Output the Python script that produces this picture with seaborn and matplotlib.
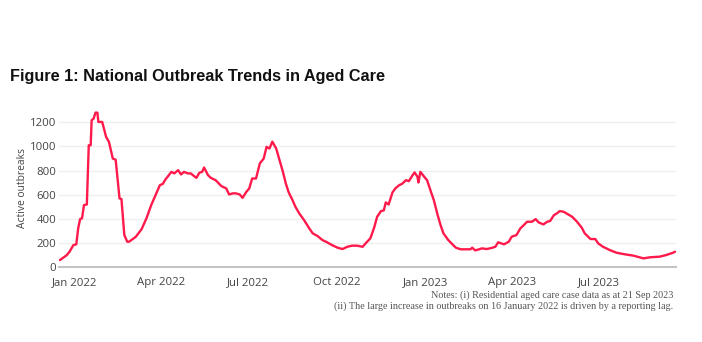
import matplotlib
matplotlib.use("Agg")
import matplotlib.pyplot as plt
import matplotlib.dates as mdates
import seaborn as sns
import pandas as pd

dates = [
    "2021-12-17", "2021-12-24", "2021-12-27", "2021-12-31", "2022-01-03", "2022-01-05",
    "2022-01-07", "2022-01-09", "2022-01-11", "2022-01-14", "2022-01-16", "2022-01-18",
    "2022-01-19", "2022-01-21", "2022-01-23", "2022-01-25", "2022-01-26", "2022-01-30",
    "2022-02-03", "2022-02-06", "2022-02-10", "2022-02-13", "2022-02-17", "2022-02-19",
    "2022-02-22", "2022-02-25", "2022-02-27", "2022-03-06", "2022-03-12", "2022-03-17",
    "2022-03-22", "2022-03-25", "2022-03-31", "2022-04-03", "2022-04-06", "2022-04-08",
    "2022-04-12", "2022-04-15", "2022-04-19", "2022-04-22", "2022-04-25", "2022-04-29",
    "2022-05-02", "2022-05-08", "2022-05-11", "2022-05-14", "2022-05-16", "2022-05-20",
    "2022-05-23", "2022-05-28", "2022-06-03", "2022-06-08", "2022-06-11", "2022-06-15",
    "2022-06-18", "2022-06-22", "2022-06-25", "2022-06-29", "2022-07-02", "2022-07-05",
    "2022-07-09", "2022-07-13", "2022-07-17", "2022-07-20", "2022-07-23", "2022-07-26",
    "2022-07-30", "2022-08-02", "2022-08-06", "2022-08-09", "2022-08-12", "2022-08-16",
    "2022-08-19", "2022-08-23", "2022-08-28", "2022-09-02", "2022-09-06", "2022-09-11",
    "2022-09-16", "2022-09-21", "2022-09-26", "2022-10-02", "2022-10-07", "2022-10-12",
    "2022-10-17", "2022-10-22", "2022-10-28", "2022-10-31", "2022-11-05", "2022-11-09",
    "2022-11-12", "2022-11-16", "2022-11-19", "2022-11-21", "2022-11-24", "2022-11-28",
    "2022-12-01", "2022-12-05", "2022-12-08", "2022-12-12", "2022-12-15", "2022-12-19",
    "2022-12-21", "2022-12-24", "2022-12-25", "2022-12-27", "2022-12-31", "2023-01-03",
    "2023-01-07", "2023-01-10", "2023-01-14", "2023-01-17", "2023-01-20", "2023-01-25",
    "2023-01-29", "2023-02-02", "2023-02-07", "2023-02-14", "2023-02-17", "2023-02-19",
    "2023-02-22", "2023-02-27", "2023-03-01", "2023-03-06", "2023-03-12", "2023-03-15",
    "2023-03-18", "2023-03-24", "2023-03-29", "2023-04-01", "2023-04-06", "2023-04-10",
    "2023-04-13", "2023-04-17", "2023-04-22", "2023-04-26", "2023-04-29", "2023-05-04",
    "2023-05-08", "2023-05-11", "2023-05-15", "2023-05-18", "2023-05-21", "2023-05-25",
    "2023-05-28", "2023-06-03", "2023-06-08", "2023-06-13", "2023-06-16", "2023-06-22",
    "2023-06-27", "2023-06-30", "2023-07-05", "2023-07-12", "2023-07-19", "2023-07-26",
    "2023-08-06", "2023-08-16", "2023-08-23", "2023-09-02", "2023-09-09", "2023-09-16",
    "2023-09-18",
]
active_outbreaks = [
    60, 100, 129, 184, 190, 322,
    400, 405, 515, 520, 1010, 1010,
    1217, 1230, 1280, 1280, 1203, 1203,
    1080, 1038, 900, 890, 570, 565,
    267, 212, 212, 253, 316, 405,
    515, 570, 680, 690, 730, 749,
    790, 777, 804, 768, 790, 777,
    777, 740, 782, 790, 826, 763,
    740, 721, 672, 653, 603, 612,
    612, 603, 575, 625, 653, 735,
    735, 860, 900, 997, 983, 1040,
    983, 900, 790, 694, 620, 556,
    501, 446, 391, 327, 281, 259,
    226, 207, 184, 162, 151, 170,
    179, 179, 170, 198, 240, 330,
    418, 465, 471, 537, 520, 620,
    653, 680, 691, 721, 713, 763,
    785, 749, 702, 790, 749, 721,
    625, 556, 432, 350, 281, 226,
    193, 162, 149, 149, 149, 162,
    140, 151, 157, 151, 162, 170,
    207, 190, 212, 253, 267, 322,
    344, 377, 377, 399, 372, 355,
    377, 383, 432, 446, 465, 460,
    446, 418, 377, 327, 281, 234,
    234, 198, 170, 143, 121, 110,
    96, 74, 83, 88, 102, 121,
    129,
]
tick_dates = ["2022-01-01", "2022-04-01", "2022-07-01", "2022-10-01",
              "2023-01-01", "2023-04-01", "2023-07-01"]
y_ticks = [0, 200, 400, 600, 800, 1000, 1200]
title = "Figure 1: National Outbreak Trends in Aged Care"
y_label = "Active outbreaks"
notes = ["Notes: (i) Residential aged care case data as at 21 Sep 2023",
         "(ii) The large increase in outbreaks on 16 January 2022 is driven by a reporting lag."]

df = pd.DataFrame({"date": pd.to_datetime(dates), "active": active_outbreaks})

sns.set_theme(style="white")
plt.rcParams["font.family"] = ["Open Sans", "DejaVu Sans"]

fig = plt.figure(figsize=(7.02, 3.42), dpi=100)
ax = fig.add_axes([0.084, 0.2184, 0.879, 0.4664])

sns.lineplot(data=df, x="date", y="active", ax=ax, color="#FF1A4B", linewidth=1.7)

ax.set_xlim(pd.Timestamp("2021-12-16"), pd.Timestamp("2023-09-19"))
ax.set_ylim(0, 1320)
ax.set_yticks(y_ticks)
ax.set_xticks(pd.to_datetime(tick_dates))
ax.xaxis.set_major_formatter(mdates.DateFormatter("%b %Y"))
ax.yaxis.grid(True, color="#eeeeee", linewidth=0.9)
ax.xaxis.grid(False)
for s in ["top", "right", "left"]:
    ax.spines[s].set_visible(False)
ax.spines["bottom"].set_color("#c4c4c4")
ax.spines["bottom"].set_linewidth(1.5)
ax.tick_params(axis="both", length=0, labelsize=8.2, colors="#444444")
ax.tick_params(axis="x", pad=7)
ax.tick_params(axis="y", pad=2)
ax.set_xlabel("")
ax.set_ylabel(y_label, fontsize=7.4, color="#444444", labelpad=1)

fig.text(0.014, 0.763, title, fontsize=11.7, fontweight="bold",
         family=["Liberation Sans", "DejaVu Sans"], color="#111111", va="baseline")
fig.text(0.959, 0.130, notes[0], fontsize=7.3, family=["Liberation Serif", "DejaVu Serif"],
         color="#555555", ha="right", va="baseline")
fig.text(0.959, 0.097, notes[1], fontsize=7.3, family=["Liberation Serif", "DejaVu Serif"],
         color="#555555", ha="right", va="baseline")

fig.savefig("out.png", dpi=100, facecolor="white")
